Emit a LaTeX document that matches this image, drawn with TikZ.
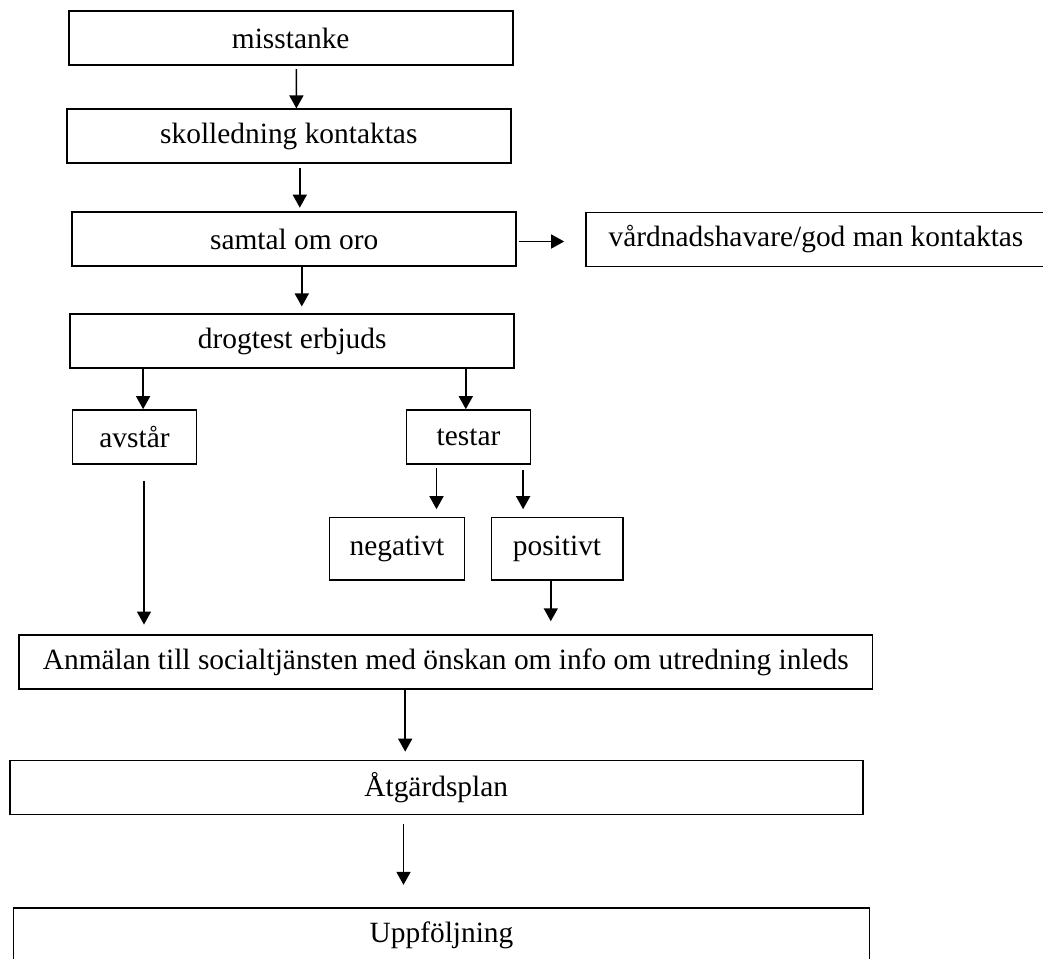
\documentclass[tikz,border=0pt]{standalone}
\usepackage{fontspec}
\setmainfont{Liberation Serif}
\usetikzlibrary{arrows.meta}

\tikzset{
    flow box/.style={
        draw,line width=1.7pt,
        minimum height=54pt,inner sep=0pt,
        font=\fontsize{29.4}{35}\selectfont
    },
    >={Triangle[length=13pt,width=14pt]}
}

\begin{document}
\begin{tikzpicture}[x=1pt,y=-1pt,line width=1.6pt]
        \useasboundingbox (0,0) rectangle (1043,958);
        % main column
        \node[flow box,minimum width=444pt] (misstanke) at (290.7,38.2) {misstanke};
        \node[flow box,minimum width=444pt] (kontakt) at (288.8,136.3) {skolledning kontaktas};
        \node[flow box,minimum width=444pt] (samtal) at (294.2,239.2) {samtal om oro};
        \node[flow box,minimum width=460pt] (vardnad) at (816,239.4) {vårdnadshavare/god man kontaktas};
        \node[flow box,minimum width=444pt] (drogtest) at (292.2,341) {drogtest erbjuds};
        % branches
        \node[flow box,minimum width=124pt] (avstar) at (134.5,437) {avstår};
        \node[flow box,minimum width=124pt] (testar) at (468.5,437) {testar};
        \node[flow box,minimum width=135pt,minimum height=62.7pt] (negativt) at (396.9,548.7) {negativt};
        \node[flow box,minimum width=131.3pt,minimum height=62.7pt] (positivt) at (557,548.7) {positivt};
        % wide boxes
        \node[flow box,minimum width=853.6pt] (anmalan) at (445.8,661.9) {Anmälan till socialtjänsten med önskan om info om utredning inleds};
        \node[flow box,minimum width=853pt] (atgard) at (436.2,787.5) {Åtgärdsplan};
        \node[flow box,minimum width=856pt] (uppfoljning) at (441.5,935.3) {Uppföljning};

        \draw[->] ([shift={(5.7,3)}]misstanke.south) -- ([xshift=7.6pt]kontakt.north);
        \draw[->] ([shift={(11,3.4)}]kontakt.south) -- ([shift={(5.6,-3.7)}]samtal.north);
        \draw[->] ([xshift=7.6pt]samtal.south) -- ([shift={(9.6,-6.7)}]drogtest.north);
        \draw[->] ([shift={(2,2.3)}]samtal.east) -- ([shift={(-21,2.1)}]vardnad.west);
        \draw[->] ([xshift=8.6pt]avstar.north |- drogtest.south) -- ([xshift=8.6pt]avstar.north);
        \draw[->] ([xshift=-2.7pt]testar.north |- drogtest.south) -- ([xshift=-2.7pt]testar.north);
        \draw[->] ([shift={(39.6,3.3)}]negativt.north |- testar.south) -- ([shift={(39.6,-7.3)}]negativt.north);
        \draw[->] ([shift={(-33.9,5.3)}]positivt.north |- testar.south) -- ([shift={(-33.9,-7.3)}]positivt.north);
        \draw[->] ([shift={(9.5,16)}]avstar.south) -- ([shift={(9.5,-9.5)}]avstar.south |- anmalan.north);
        \draw[->] ([xshift=-6.2pt]positivt.south) -- ([shift={(-6.2,-12.8)}]positivt.south |- anmalan.north);
        \draw[->] ([xshift=-31pt]atgard.north |- anmalan.south) -- ([shift={(-31,-8)}]atgard.north);
        \draw[->] ([shift={(-38,9)}]uppfoljning.north |- atgard.south) -- ([shift={(-38,-22.6)}]uppfoljning.north);
\end{tikzpicture}
\end{document}
